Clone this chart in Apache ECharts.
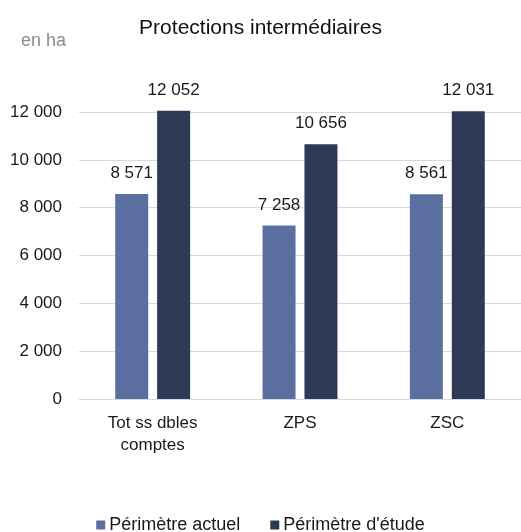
<!DOCTYPE html>
<html>
<head>
<meta charset="utf-8">
<script src="https://cdn.jsdelivr.net/npm/echarts@6/dist/echarts.min.js"></script>
<style>
  html, body { margin: 0; padding: 0; background: #fff; }
  #chart { width: 521px; height: 532px; }
</style>
</head>
<body>
<div id="chart"></div>
<script>
  const categories = ['Tot ss dbles\ncomptes', 'ZPS', 'ZSC'];
  const seriesNames = ['Périmètre actuel', "Périmètre d'étude"];
  const actuel = [8571, 7258, 8561];
  const etude = [12052, 10656, 12031];

  const fmt = v => String(v).replace(/\B(?=(\d{3})+(?!\d))/g, ' ');
  const font = '"Liberation Sans", Arial, sans-serif';

  const chart = echarts.init(document.getElementById('chart'));

  const barLabel = {
    show: true,
    position: 'top',
    distance: 12,
    color: '#1a1a1a',
    fontSize: 17,
    fontFamily: font,
    formatter: p => fmt(p.value)
  };

  chart.setOption({
    animation: false,
    title: [
      {
        text: 'Protections intermédiaires',
        left: 'center',
        top: 18,
        padding: 0,
        textStyle: { fontSize: 21, fontWeight: 'normal', color: '#111', fontFamily: font }
      },
      {
        text: 'en ha',
        left: 21,
        top: 32,
        padding: 0,
        textStyle: { fontSize: 18, fontWeight: 'normal', color: '#8c8c8c', fontFamily: font }
      }
    ],
    legend: {
      top: 516,
      left: 'center',
      itemWidth: 9,
      itemHeight: 9,
      itemGap: 30,
      icon: 'rect',
      padding: 0,
      textStyle: { fontSize: 18, color: '#1a1a1a', fontFamily: font, padding: [0, 0, 0, -1] },
      data: seriesNames
    },
    grid: { left: 79, right: 0, top: 112, bottom: 133 },
    xAxis: {
      type: 'category',
      data: categories,
      axisLine: { lineStyle: { color: '#d9d9d9', width: 1 } },
      axisTick: { show: false },
      axisLabel: { color: '#1a1a1a', fontSize: 17, fontFamily: font, margin: 13, lineHeight: 22 }
    },
    yAxis: {
      type: 'value',
      min: 0,
      max: 12000,
      interval: 2000,
      axisLine: { show: false },
      axisTick: { show: false },
      splitLine: { lineStyle: { color: '#d9d9d9', width: 1 } },
      axisLabel: { color: '#1a1a1a', fontSize: 17, fontFamily: font, margin: 17, formatter: v => fmt(v) }
    },
    series: [
      {
        name: seriesNames[0],
        type: 'bar',
        data: actuel,
        barWidth: 33,
        barGap: '27%',
        clip: false,
        itemStyle: { color: '#5b6fa1' },
        label: barLabel
      },
      {
        name: seriesNames[1],
        type: 'bar',
        data: etude,
        barWidth: 33,
        clip: false,
        itemStyle: { color: '#2e3a55' },
        label: barLabel
      }
    ]
  });
</script>
</body>
</html>
